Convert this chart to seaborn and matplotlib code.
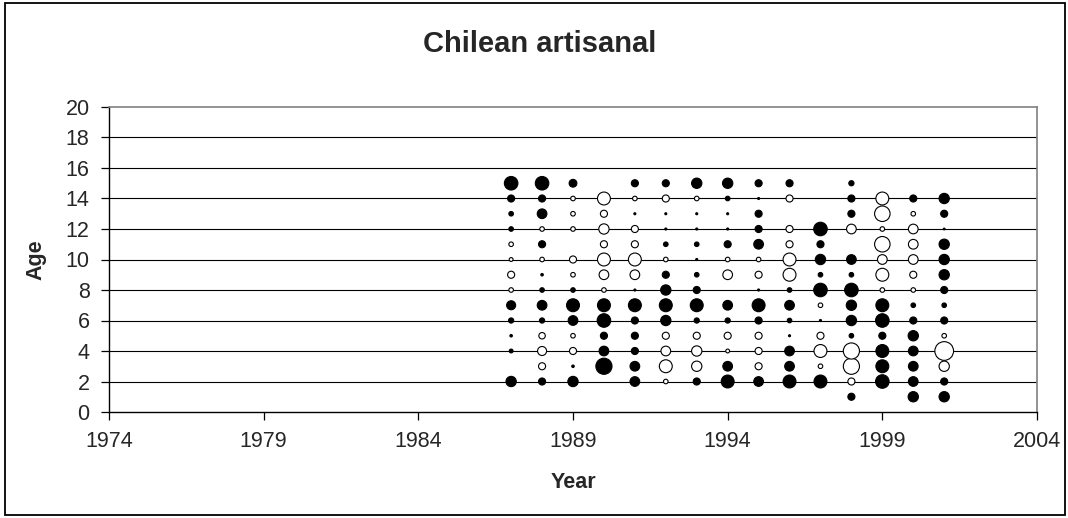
import numpy as np
import pandas as pd
import seaborn as sns
import matplotlib.pyplot as plt
from matplotlib.patches import Rectangle

# Residuals by year, ages 1..15 (positive = filled, negative = open, None = no bubble)
years = list(range(1987, 2002))
ages = list(range(1, 16))

r1987 = [None, 10.2, None, 1.4, 0.6, 2.6, 7.8, -2.0, -4.8, -1.4, -2.0, 2.0, 2.0, 4.8, 17.6]
r1988 = [None, 4.8, -4.8, -7.8, -4.0, 2.6, 9.0, 2.0, 0.6, -2.0, 4.8, -2.0, 9.0, 4.8, 17.6]
r1989 = [None, 10.2, 0.6, -4.8, -2.0, 9.0, 16.0, 2.0, -2.0, -4.8, None, -2.0, -2.0, -2.0, 5.8]
r1990 = [None, None, 25.0, 9.0, 4.8, 17.6, 16.0, -2.0, -9.0, -16.0, -4.8, -10.2, -4.8, -16.0, None]
r1991 = [None, 9.0, 9.0, 4.8, 4.8, 4.8, 16.0, 0.4, -9.0, -16.0, -4.8, -4.8, 0.4, -2.0, 4.8]
r1992 = [None, -2.0, -16.0, -9.0, -4.8, 10.2, 16.0, 10.2, 4.8, -2.0, 2.0, 0.4, 0.4, -4.8, 4.8]
r1993 = [None, 4.8, -10.2, -10.2, -4.8, 2.6, 16.0, 4.8, 2.0, 0.4, 2.0, 0.4, 0.4, -2.0, 10.2]
r1994 = [None, 16.0, 9.0, -1.4, -4.8, 2.6, 9.0, None, -9.0, -2.0, 4.8, 0.4, 0.4, 2.0, 10.2]
r1995 = [None, 9.0, -4.8, -4.8, -4.8, 4.8, 16.0, 0.4, -4.8, -2.0, 9.0, 4.8, 4.8, 0.4, 4.8]
r1996 = [None, 16.0, 9.0, 9.0, 0.4, 2.0, 9.0, 2.0, -16.0, -16.0, -4.8, -4.8, None, -4.8, 4.8]
r1997 = [None, 16.0, -2.0, -16.0, -4.8, 0.4, -2.0, 17.6, 2.0, 10.2, 4.8, 17.6, None, None, None]
r1998 = [4.8, -4.8, -25.0, -25.0, 2.0, 10.2, 10.2, 17.6, 2.0, 9.0, None, -9.0, 4.8, 4.8, 2.6]
r1999 = [None, 17.6, 16.0, 16.0, 4.8, 17.6, 16.0, -2.0, -16.0, -9.0, -23.0, -2.0, -23.0, -16.0, None]
r2000 = [10.2, 9.0, 9.0, 9.0, 10.2, 4.8, 2.0, -2.0, -4.8, -9.0, -9.0, -9.0, -2.0, 4.8, None]
r2001 = [10.2, 4.8, -10.2, -33.6, -2.0, 4.8, 2.0, 4.8, 10.2, 10.2, 10.2, 0.3, 4.8, 10.2, None]

all_resid = [r1987, r1988, r1989, r1990, r1991, r1992, r1993, r1994,
             r1995, r1996, r1997, r1998, r1999, r2000, r2001]

rows = []
for yr, col in zip(years, all_resid):
    for age, v in zip(ages, col):
        if v is None:
            continue
        rows.append({'Year': yr, 'Age': age, 'size': abs(v),
                     'sign': 'pos' if v > 0 else 'neg'})
df = pd.DataFrame(rows)

sns.set_style("white")
plt.rcParams['font.family'] = ['Liberation Sans', 'DejaVu Sans']

fig = plt.figure(figsize=(10.68, 5.18), dpi=100)
ax = fig.add_axes([109 / 1068, 1 - 412 / 518, (1037 - 109) / 1068, (412 - 107) / 518])

vmax = df['size'].max()
sns.scatterplot(data=df, x='Year', y='Age', size='size', sizes=(0, 5.4 * vmax),
                size_norm=(0, vmax), hue='sign',
                palette={'pos': 'black', 'neg': 'white'},
                edgecolor='black', linewidth=0.8, legend=False, ax=ax, zorder=3)

ax.set_xlim(1974, 2004)
ax.set_ylim(0, 20)
ax.set_xticks(range(1974, 2005, 5))
ax.set_yticks(range(0, 21, 2))
for yv in range(2, 20, 2):
    ax.axhline(yv, color='black', lw=0.8, zorder=1)

for side in ['top', 'right']:
    ax.spines[side].set_color('#808080')
    ax.spines[side].set_linewidth(1.2)
for side in ['left', 'bottom']:
    ax.spines[side].set_color('black')
    ax.spines[side].set_linewidth(1.0)

ax.tick_params(axis='both', direction='out', length=6, width=0.9, color='black',
               labelsize=15.5, pad=8, left=True, bottom=True)

ax.set_xlabel('Year', fontsize=15.5, fontweight='bold', labelpad=14)
ax.set_ylabel('Age', fontsize=15.5, fontweight='bold', labelpad=14)

fig.text(0.505, 0.915, 'Chilean artisanal', ha='center', va='center',
         fontsize=21, fontweight='bold')

fig.patches.append(Rectangle((5 / 1068, 3 / 518), 1060 / 1068, 512 / 518,
                             transform=fig.transFigure, fill=False,
                             edgecolor='black', lw=1.3))

fig.savefig('out.png', dpi=100)
